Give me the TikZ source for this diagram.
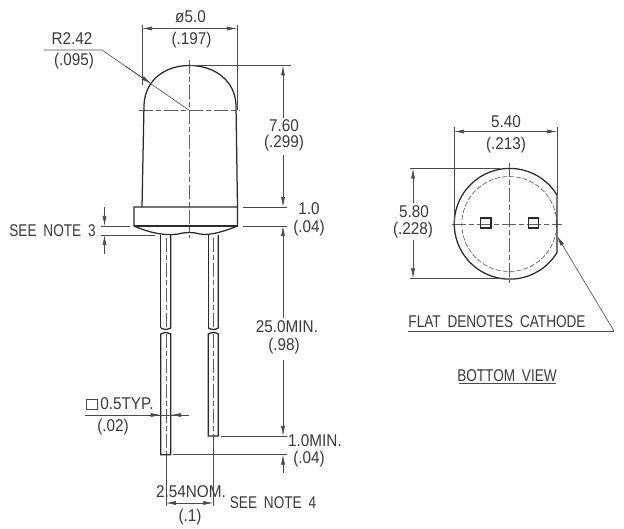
\documentclass[tikz,border=0pt]{standalone}
\usepackage{fontspec}
\setmainfont{Liberation Sans}
\newfontfamily\numfont[FakeStretch=0.9]{Liberation Sans}
\newfontfamily\capsfont[FakeStretch=0.8,WordSpace=1.8]{Liberation Sans}
\usetikzlibrary{arrows.meta}
\definecolor{ink}{HTML}{2A2A2A}
\definecolor{txt}{HTML}{3A3A3A}
\tikzset{
 body/.style={draw=ink,line width=1.25pt},
 dim/.style={draw=ink!85,line width=0.6pt},
 arr/.style={dim,{Latex[length=10pt,width=4pt]}-{Latex[length=10pt,width=4pt]}},
 arrend/.style={dim,-{Latex[length=10pt,width=4pt]}},
 centre/.style={draw=ink!75,line width=0.6pt,dash pattern=on 14pt off 3pt on 5pt off 3pt},
 thin dash/.style={draw=ink!80,line width=0.6pt,dash pattern=on 5pt off 2pt},
 lbl/.style={inner sep=0pt,text=txt,font=\fontsize{17}{18}\numfont},
 caplbl/.style={inner sep=0pt,text=txt,font=\fontsize{17}{18}\capsfont},
}
\begin{document}
\begin{tikzpicture}[x=1pt,y=-1pt]
\useasboundingbox (0,0) rectangle (624,529);
\fill[white] (0,0) rectangle (624,529);
% centre lines
\draw[centre] (139,110.5) -- (240,110.5);
\draw[centre] (189.5,60) -- (189.5,238);
\draw[centre] (165.8,238) -- (165.8,328);
\draw[centre] (165.8,334) -- (165.8,455);
\draw[centre] (213.3,238) -- (213.3,328);
\draw[centre] (213.3,334) -- (213.3,436);
% body
\draw[body] (142,207) -- (144,105) .. controls (145,80) and (165,65.5) .. (189.5,65.5)
  .. controls (214,65.5) and (235,80) .. (236,105) -- (237.5,207);
\draw[body] (134,207) -- (237.5,207) -- (237.5,226)
  .. controls (225,231) and (210,236) .. (200,234)
  .. controls (193,232) and (186,232) .. (178,234)
  .. controls (165,236) and (150,233) .. (134,226) -- cycle;
\draw[body] (134,226) -- (237.5,226);
% leads
\draw[body] (160.8,235) -- (160.8,328);
\draw[body] (170.8,235) -- (170.8,328) .. controls (168,330) and (165,330) .. (160.8,328);
\draw[body] (170.8,334) .. controls (168,332) and (165,332) .. (160.8,334) -- (160.8,454.7) -- (170.8,454.7) -- cycle;
\draw[body] (208.3,235) -- (208.3,328);
\draw[body] (218.3,235) -- (218.3,328) .. controls (215,330) and (212,330) .. (208.3,328);
\draw[body] (218.3,334) .. controls (215,332) and (212,332) .. (208.3,334) -- (208.3,436) -- (218.3,436) -- cycle;
% dia 5.0
\draw[dim] (142,25) -- (142,85);
\draw[dim] (237,25) -- (237,110);
\draw[arr] (142,28.5) -- (237,28.5);
\node[lbl] (dia) at (190.5,17) {ø5.0};
\node[lbl] (diain) at (191.5,40) {(.197)};
% R2.42
\draw[dim] (44,50) -- (102,50) -- (189.5,110.5);
\draw[arrend] (125,66) -- (151,83.5);
\node[lbl] (rad) at (72,39) {R2.42};
\node[lbl] (radin) at (74,61) {(.095)};
% 7.60
\draw[dim] (190,65.5) -- (291,65.5);
\draw[arrend] (283,118) -- (283,65.5);
\draw[arrend] (283,155) -- (283,207);
\node[lbl] (h) at (284,125.5) {7.60};
\node[lbl] (hin) at (284,143.5) {(.299)};
% 1.0
\draw[dim] (243,207) -- (287,207);
\draw[dim] (243,226) -- (287,226);
\node[lbl] (fl) at (309,209) {1.0};
\node[lbl] (flin) at (309,228) {(.04)};
% 25.0
\draw[arrend] (283,318) -- (283,226);
\draw[arrend] (283,360) -- (283,436);
\node[lbl] (len) at (287,327) {25.0MIN.};
\node[lbl] (lenin) at (284,346) {(.98)};
% 1.0 min
\draw[dim] (221,436) -- (287,436);
\draw[dim] (173,454.7) -- (287,454.7);
\draw[arrend] (283,473) -- (283,454.7);
\node[lbl] (mn) at (315,441) {1.0MIN.};
\node[lbl] (mnin) at (309,459) {(.04)};
% see note 3
\draw[dim] (101,226) -- (130,226);
\draw[dim] (101,235) -- (155,235);
\draw[arrend] (104.5,207) -- (104.5,226);
\draw[arrend] (104.5,254) -- (104.5,235);
\node[caplbl] (n3) at (52.5,231) {SEE NOTE 3};
% 0.5
\draw[dim] (85,415) -- (189,415);
\draw[arrend] (145,415) -- (160.8,415);
\draw[arrend] (186,415) -- (170.8,415);
\draw[dim] (86,399) rectangle (97,409);
\node[lbl] (sq) at (127,404) {0.5TYP.};
\node[lbl] (sqin) at (113,427) {(.02)};
% 2.54
\draw[dim] (165.8,455) -- (165.8,506);
\draw[dim] (213.3,436) -- (213.3,506);
\draw[arr] (165.8,503) -- (213.3,503);
\node[lbl] (p) at (191,492) {2.54NOM.};
\node[lbl] (pin) at (190,517) {(.1)};
\node[caplbl] (n4) at (273,503) {SEE NOTE 4};
% bottom view
\draw[centre] (452,224) -- (562,224);
\draw[centre] (509.3,163) -- (509.3,283);
\draw[thin dash] (509.3,224) circle[radius=47.5pt];
\draw[body] (557,195) arc[start angle=31.3,end angle=328.7,radius=55.4pt] -- cycle;
\draw[body] (480.7,218) rectangle (491,228);
\draw[body] (528.3,218) rectangle (538.5,228);
% 5.40
\draw[dim] (454,127) -- (454,224);
\draw[dim] (557,127) -- (557,195);
\draw[arr] (454,131.5) -- (557,131.5);
\node[lbl] (w) at (506,122) {5.40};
\node[lbl] (win) at (506,145) {(.213)};
% 5.80
\draw[dim] (410,168.5) -- (500,168.5);
\draw[dim] (410,278.5) -- (500,278.5);
\draw[arrend] (413,203) -- (413,168.5);
\draw[arrend] (413,240) -- (413,278.5);
\node[lbl] (d) at (414,212) {5.80};
\node[lbl] (din) at (413,230) {(.228)};
% flat
\draw[dim] (408,331) -- (614,331);
\draw[arrend] (614,331) -- (557,236);
\node[caplbl] (flat) at (497,322) {FLAT DENOTES CATHODE};
\node[caplbl] (bv) at (507,376) {BOTTOM VIEW};
\draw[dim] (459,383.5) -- (556,383.5);
\end{tikzpicture}
\end{document}
